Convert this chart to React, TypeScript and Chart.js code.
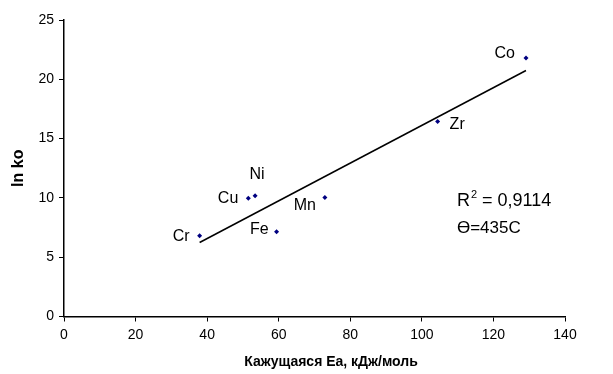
import { useEffect, useRef } from "react";
import { Chart, registerables } from "chart.js";

Chart.register(...registerables);

// ---- data ----
const elements = ["Cr", "Cu", "Ni", "Fe", "Mn", "Zr", "Co"];
const activationEnergy = [37.9, 51.5, 53.4, 59.4, 72.9, 104.4, 129.1];
const lnK0 = [6.8, 9.98, 10.18, 7.14, 10.03, 16.45, 21.8];
const xTicks = [0, 20, 40, 60, 80, 100, 120, 140];
const yTicks = [0, 5, 10, 15, 20, 25];
const rSquaredValue = "0,9114";
const thetaText = "ϴ=435C";
const xTitle = "Кажущаяся Ea, кДж/моль";
const yTitle = "ln ko";

// label placement (pixel offsets from point)
const labelOffsets: Record<string, { dx: number; dy: number; align: CanvasTextAlign }> = {
  Cr: { dx: -10, dy: 1, align: "right" },
  Cu: { dx: -10, dy: 0, align: "right" },
  Ni: { dx: 2, dy: -21, align: "center" },
  Fe: { dx: -8, dy: -2, align: "right" },
  Mn: { dx: -9, dy: 8.5, align: "right" },
  Zr: { dx: 12, dy: 3.5, align: "left" },
  Co: { dx: -11, dy: -4, align: "right" },
};
// annotation anchor in data coordinates
const annotationX = 109.8;
const annotationY1 = 9.75;
const annotationY2 = 7.4;

const FONT = "'Liberation Sans', Arial, sans-serif";

function regression(xs: number[], ys: number[]) {
  const n = xs.length;
  const mx = xs.reduce((a, b) => a + b, 0) / n;
  const my = ys.reduce((a, b) => a + b, 0) / n;
  let sxy = 0, sxx = 0;
  for (let i = 0; i < n; i++) {
    sxy += (xs[i] - mx) * (ys[i] - my);
    sxx += (xs[i] - mx) * (xs[i] - mx);
  }
  const slope = sxy / sxx;
  return { slope, intercept: my - slope * mx };
}

export default function App() {
  const ref = useRef<HTMLCanvasElement | null>(null);

  useEffect(() => {
    document.body.style.margin = "0";
    const canvas = ref.current;
    if (!canvas) return;

    const { slope, intercept } = regression(activationEnergy, lnK0);
    const xMin = Math.min(...activationEnergy);
    const xMax = Math.max(...activationEnergy);
    const trend = [
      { x: xMin, y: slope * xMin + intercept },
      { x: xMax, y: slope * xMax + intercept },
    ];

    const labelPlugin = {
      id: "labels",
      afterDatasetsDraw(chart: any) {
        const ctx = chart.ctx as CanvasRenderingContext2D;
        const meta = chart.getDatasetMeta(1);
        ctx.save();
        ctx.fillStyle = "#000";
        ctx.font = `16px ${FONT}`;
        ctx.textBaseline = "middle";
        meta.data.forEach((pt: any, i: number) => {
          const name = elements[i];
          const o = labelOffsets[name];
          ctx.textAlign = o.align;
          ctx.fillText(name, pt.x + o.dx, pt.y + o.dy);
        });
        // R^2 annotation
        const xs = chart.scales.x;
        const ys = chart.scales.y;
        const ax = xs.getPixelForValue(annotationX);
        const ay1 = ys.getPixelForValue(annotationY1);
        const ay2 = ys.getPixelForValue(annotationY2);
        ctx.textAlign = "left";
        ctx.font = `18px ${FONT}`;
        ctx.fillText("R", ax, ay1);
        let w = ctx.measureText("R").width;
        ctx.font = `11px ${FONT}`;
        ctx.fillText("2", ax + w + 1, ay1 - 6);
        w += ctx.measureText("2").width + 1;
        ctx.font = `18px ${FONT}`;
        ctx.fillText(" = " + rSquaredValue, ax + w, ay1);
        ctx.font = `17px ${FONT}`;
        ctx.fillText(thetaText, ax, ay2);
        // x axis title
        ctx.textAlign = "center";
        ctx.font = `bold 14px ${FONT}`;
        ctx.fillText(xTitle, 331, 362);
        ctx.restore();
      },
    };

    const chart = new Chart(canvas, {
      type: "scatter",
      data: {
        datasets: [
          {
            label: "trend",
            data: trend,
            showLine: true,
            borderColor: "#000",
            borderWidth: 1.5,
            pointRadius: 0,
            fill: false,
          } as any,
          {
            label: "points",
            data: activationEnergy.map((x, i) => ({ x, y: lnK0[i] })),
            pointStyle: "rectRot",
            pointRadius: 2.5,
            backgroundColor: "#000080",
            borderColor: "#000080",
            borderWidth: 0,
          },
        ],
      },
      options: {
        responsive: false,
        animation: false,
        layout: { padding: { left: 0, right: 48, top: 20, bottom: 0 } },
        plugins: { legend: { display: false }, tooltip: { enabled: false } },
        scales: {
          x: {
            type: "linear",
            min: xTicks[0],
            max: xTicks[xTicks.length - 1],
            afterBuildTicks: (s: any) => {
              s.ticks = xTicks.map((v) => ({ value: v }));
            },
            afterFit: (s: any) => {
              s.height = 57.5;
            },
            ticks: { color: "#000", font: { family: FONT, size: 14 }, padding: 5, maxRotation: 0 },
            grid: { drawOnChartArea: false, drawTicks: true, tickLength: 5, color: "#000", lineWidth: 1 },
            border: { display: true, color: "#000", width: 1.5 },
            title: { display: false },
          },
          y: {
            type: "linear",
            min: yTicks[0],
            max: yTicks[yTicks.length - 1],
            afterBuildTicks: (s: any) => {
              s.ticks = yTicks.map((v) => ({ value: v }));
            },
            afterFit: (s: any) => {
              s.width = 64;
            },
            ticks: { color: "#000", font: { family: FONT, size: 14 }, padding: 5 },
            grid: { drawOnChartArea: false, drawTicks: true, tickLength: 5, color: "#000", lineWidth: 1 },
            border: { display: true, color: "#000", width: 1.5 },
            title: {
              display: true,
              text: yTitle,
              color: "#000",
              font: { family: FONT, size: 16, weight: "bold" },
              padding: { top: 9, bottom: 9 },
            },
          },
        },
      },
      plugins: [labelPlugin],
    });

    return () => chart.destroy();
  }, []);

  return (
    <div style={{ width: 613, height: 374 }}>
      <canvas ref={ref} width={613} height={374} style={{ display: "block" }} />
    </div>
  );
}
